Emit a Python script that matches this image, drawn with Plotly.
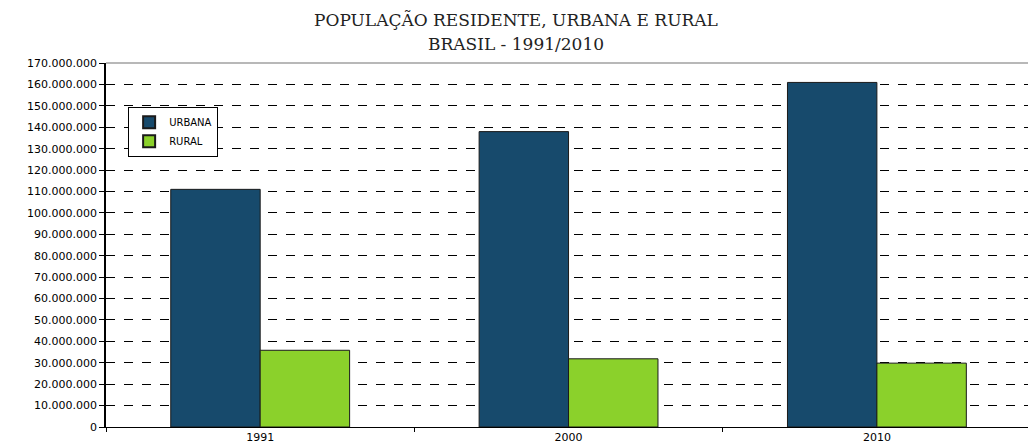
import plotly.graph_objects as go

anos = ["1991", "2000", "2010"]
urbana = [110990990, 137953959, 160925792]
rural = [35834485, 31845211, 29830007]
y_ticks = list(range(0, 170000001, 10000000))
titulo_1 = "POPULAÇÃO RESIDENTE, URBANA E RURAL"
titulo_2 = "BRASIL - 1991/2010"

fig = go.Figure()
fig.add_trace(go.Bar(x=anos, y=urbana, name="URBANA",
                     marker=dict(color="#174a6c", line=dict(color="#1a1a1a", width=1))))
fig.add_trace(go.Bar(x=anos, y=rural, name="RURAL",
                     marker=dict(color="#8bd12b", line=dict(color="#1a1a1a", width=1))))

fig.update_layout(
    width=1028, height=448,
    margin=dict(l=106, r=0, t=63, b=21),
    paper_bgcolor="white", plot_bgcolor="white",
    separators=",.",
    barmode="group", bargap=0.42, bargroupgap=0,
    font=dict(family="DejaVu Sans", size=11, color="black"),
    legend=dict(x=0.024, y=0.88, xanchor="left", yanchor="top",
                bgcolor="white", bordercolor="black", borderwidth=1,
                font=dict(size=10), tracegroupgap=0, itemwidth=30,
                itemsizing="constant"),
    showlegend=True,
)
fig.add_annotation(text=titulo_1, xref="paper", yref="paper", x=0.445, y=1,
                   yshift=43, xanchor="center", yanchor="middle", showarrow=False,
                   font=dict(family="DejaVu Serif", size=17, color="#222222"))
fig.add_annotation(text=titulo_2, xref="paper", yref="paper", x=0.445, y=1,
                   yshift=19, xanchor="center", yanchor="middle", showarrow=False,
                   font=dict(family="DejaVu Serif", size=17, color="#222222"))
fig.update_xaxes(range=[-0.5, 2.49], showline=True, linecolor="black", linewidth=1,
                 ticks="outside", tickson="boundaries", ticklen=4, tickcolor="black",
                 showgrid=False, tickfont=dict(size=11))
fig.update_yaxes(range=[0, 170000000], tickvals=y_ticks, tickformat=",d",
                 showline=True, linecolor="black", linewidth=1.5,
                 ticks="outside", ticklen=5, tickcolor="black",
                 showgrid=True, gridcolor="black", griddash="dash", gridwidth=1,
                 zeroline=False, tickfont=dict(size=11))
fig.add_shape(type="line", xref="paper", yref="paper", x0=0, x1=1, y0=1, y1=1,
              line=dict(color="#a0a0a0", width=1.5))
fig.write_html("out.html", config={"displayModeBar": False},
               post_script="document.body.style.margin='0';")
